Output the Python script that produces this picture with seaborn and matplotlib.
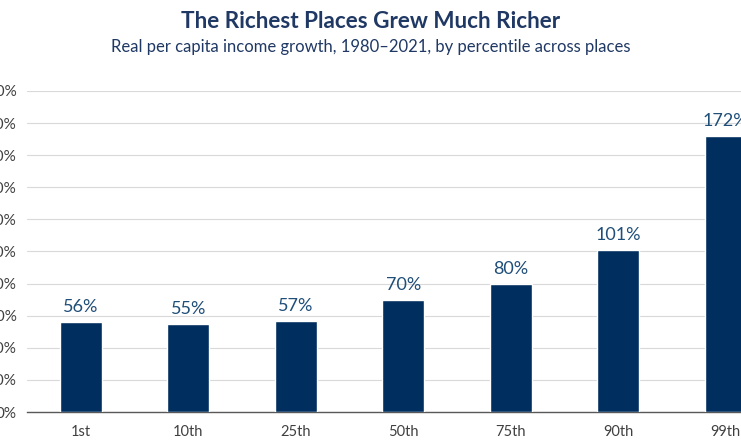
import matplotlib
matplotlib.use("Agg")
import matplotlib.pyplot as plt
import seaborn as sns
import pandas as pd

categories = ["1st", "10th", "25th", "50th", "75th", "90th", "99th"]
growth = [56, 55, 57, 70, 80, 101, 172]
yticks = [0, 20, 40, 60, 80, 100, 120, 140, 160, 180, 200]

sns.set_theme(style="white")
plt.rcParams['font.family'] = ['Lato', 'DejaVu Sans']

df = pd.DataFrame({"pct": categories, "growth": growth})

fig = plt.figure(figsize=(7.41, 4.48), dpi=100)
ax = fig.add_axes([27/741, 36/448, 752.5/741, 321/448])

sns.barplot(data=df, x="pct", y="growth", color="#002F5F", width=0.39,
            saturation=1, ax=ax, zorder=3)

ax.set_xlim(-0.5, len(categories) - 0.5)
ax.set_ylim(0, 200)
ax.set_yticks(yticks)
ax.set_yticklabels([f"{v}%" for v in yticks])
ax.yaxis.grid(True, color="#D9D9D9", linewidth=0.8, zorder=0)
ax.set_axisbelow(True)
for s in ["top", "right", "left"]:
    ax.spines[s].set_visible(False)
ax.spines["bottom"].set_color("#595959")
ax.spines["bottom"].set_linewidth(1.0)
ax.tick_params(axis="y", length=0, pad=7.5, labelsize=11, labelcolor="#404040")
ax.tick_params(axis="x", length=0, pad=9, labelsize=10.5, labelcolor="#404040")
ax.set_xlabel("")
ax.set_ylabel("")

for i, v in enumerate(growth):
    ax.annotate(f"{v}%", (i, v), xytext=(0, 5), textcoords="offset points",
                ha="center", va="bottom", fontsize=13, color="#1F4E79")

fig.text(0.5, 1 - 22/448, "The Richest Places Grew Much Richer", ha="center",
         va="center", fontsize=16.2, fontweight="bold", color="#1F3864")
fig.text(0.5, 1 - 47/448,
         "Real per capita income growth, 1980\u20132021, by percentile across places",
         ha="center", va="center", fontsize=12, color="#1F3864")

fig.savefig("out.png", dpi=100)
